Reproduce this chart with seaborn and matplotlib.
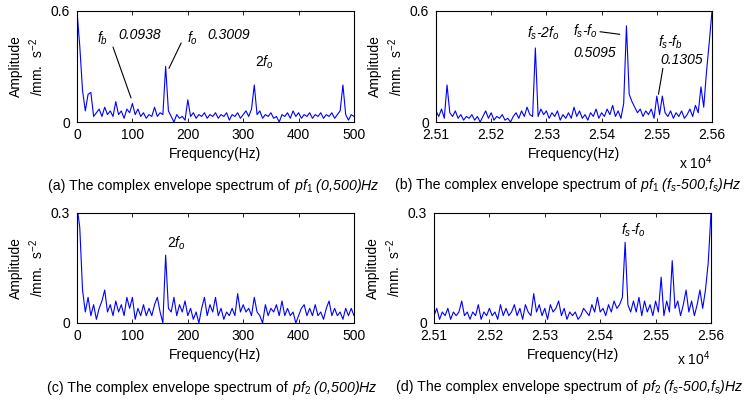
import numpy as np
import pandas as pd
import matplotlib
matplotlib.use("Agg")
import matplotlib.pyplot as plt
import seaborn as sns
from matplotlib.ticker import FuncFormatter

# ---------------- data ----------------
freq_low = list(range(0, 505, 5))                 # Hz, panels (a),(c)
freq_high = list(range(25100, 25605, 5))          # Hz, panels (b),(d)

amp_a = [0.60, 0.41, 0.17, 0.06, 0.15, 0.16, 0.03, 0.05, 0.07, 0.03,
         0.08, 0.04, 0.06, 0.03, 0.11, 0.04, 0.06, 0.02, 0.07, 0.05,
         0.10, 0.04, 0.07, 0.03, 0.05, 0.02, 0.04, 0.03, 0.08, 0.03,
         0.05, 0.04, 0.30, 0.06, 0.03, 0.00, 0.04, 0.02, 0.03, 0.01,
         0.12, 0.03, 0.05, 0.02, 0.04, 0.03, 0.05, 0.02, 0.04, 0.03,
         0.05, 0.02, 0.04, 0.03, 0.05, 0.01, 0.04, 0.03, 0.05, 0.02,
         0.04, 0.06, 0.03, 0.07, 0.20, 0.04, 0.06, 0.02, 0.04, 0.03,
         0.05, 0.02, 0.03, 0.00, 0.04, 0.03, 0.05, 0.02, 0.06, 0.03,
         0.05, 0.02, 0.04, 0.03, 0.05, 0.02, 0.04, 0.03, 0.05, 0.02,
         0.04, 0.03, 0.05, 0.02, 0.04, 0.06, 0.20, 0.04, 0.01, 0.04,
         0.03]

amp_b = [0.06, 0.03, 0.07, 0.02, 0.20, 0.05, 0.03, 0.06, 0.02, 0.04,
         0.01, 0.03, 0.02, 0.04, 0.01, 0.03, 0.00, 0.03, 0.06, 0.02,
         0.05, 0.01, 0.03, 0.02, 0.04, 0.01, 0.02, 0.00, 0.03, 0.05,
         0.02, 0.06, 0.03, 0.08, 0.04, 0.03, 0.40, 0.03, 0.07, 0.04,
         0.06, 0.02, 0.05, 0.03, 0.06, 0.01, 0.04, 0.02, 0.05, 0.02,
         0.08, 0.03, 0.06, 0.02, 0.04, 0.01, 0.05, 0.03, 0.07, 0.02,
         0.05, 0.03, 0.07, 0.04, 0.09, 0.03, 0.06, 0.02, 0.10, 0.52,
         0.15, 0.11, 0.08, 0.05, 0.07, 0.03, 0.06, 0.04, 0.07, 0.02,
         0.14, 0.04, 0.14, 0.05, 0.03, 0.06, 0.02, 0.05, 0.03, 0.06,
         0.02, 0.04, 0.07, 0.03, 0.09, 0.05, 0.19, 0.08, 0.27, 0.43,
         0.60]

amp_c = [0.32, 0.26, 0.09, 0.03, 0.07, 0.02, 0.05, 0.01, 0.04, 0.06,
         0.09, 0.03, 0.05, 0.02, 0.06, 0.03, 0.05, 0.02, 0.07, 0.04,
         0.07, 0.01, 0.04, 0.02, 0.05, 0.02, 0.04, 0.02, 0.05, 0.07,
         0.03, 0.00, 0.185, 0.04, 0.03, 0.07, 0.02, 0.05, 0.03, 0.06,
         0.02, 0.04, 0.01, 0.03, 0.00, 0.04, 0.07, 0.02, 0.05, 0.03,
         0.07, 0.02, 0.04, 0.01, 0.03, 0.02, 0.04, 0.02, 0.08, 0.03,
         0.05, 0.03, 0.04, 0.02, 0.07, 0.03, 0.02, 0.00, 0.05, 0.02,
         0.04, 0.03, 0.05, 0.02, 0.06, 0.02, 0.04, 0.02, 0.03, 0.00,
         0.02, 0.04, 0.05, 0.02, 0.04, 0.02, 0.05, 0.02, 0.03, 0.01,
         0.04, 0.06, 0.02, 0.04, 0.02, 0.03, 0.01, 0.04, 0.02, 0.04,
         0.02]

amp_d = [0.02, 0.04, 0.01, 0.03, 0.02, 0.04, 0.01, 0.03, 0.02, 0.03,
         0.06, 0.02, 0.03, 0.01, 0.03, 0.02, 0.05, 0.01, 0.03, 0.02,
         0.04, 0.02, 0.03, 0.01, 0.05, 0.02, 0.04, 0.02, 0.03, 0.05,
         0.02, 0.04, 0.01, 0.05, 0.03, 0.02, 0.08, 0.03, 0.05, 0.02,
         0.04, 0.01, 0.05, 0.03, 0.04, 0.06, 0.02, 0.04, 0.01, 0.03,
         0.02, 0.03, 0.01, 0.02, 0.04, 0.03, 0.02, 0.05, 0.03, 0.07,
         0.03, 0.04, 0.02, 0.05, 0.03, 0.06, 0.04, 0.05, 0.07, 0.22,
         0.05, 0.03, 0.06, 0.03, 0.07, 0.02, 0.06, 0.03, 0.05, 0.02,
         0.06, 0.03, 0.125, 0.02, 0.06, 0.03, 0.17, 0.04, 0.06, 0.02,
         0.05, 0.09, 0.03, 0.06, 0.02, 0.05, 0.09, 0.04, 0.09, 0.165,
         0.30]

low_ticks = [0, 100, 200, 300, 400, 500]
high_ticks = [25100, 25200, 25300, 25400, 25500, 25600]

captions = [
    ("(a) The complex envelope spectrum of", r"$pf_1$ (0,500)Hz"),
    ("(b) The complex envelope spectrum of", r"$pf_1$ ($f_s$-500,$f_s$)Hz"),
    ("(c) The complex envelope spectrum of", r"$pf_2$ (0,500)Hz"),
    ("(d) The complex envelope spectrum of", r"$pf_2$ ($f_s$-500,$f_s$)Hz"),
]

# ---------------- style ----------------
sns.set_theme(style="ticks")
plt.rcParams["font.family"] = ["Liberation Sans", "DejaVu Sans"]
plt.rcParams["mathtext.fontset"] = "custom"
plt.rcParams["mathtext.rm"] = "Liberation Sans"
plt.rcParams["mathtext.it"] = "Liberation Sans:italic"
plt.rcParams["mathtext.bf"] = "Liberation Sans:bold"
plt.rcParams["axes.edgecolor"] = "black"
plt.rcParams["axes.linewidth"] = 0.8
plt.rcParams["text.color"] = "black"
plt.rcParams["axes.labelcolor"] = "black"
plt.rcParams["xtick.color"] = "black"
plt.rcParams["ytick.color"] = "black"

FS = 10
CAP_FS = 10.2
W, H = 749, 403
fig = plt.figure(figsize=(W / 100, H / 100), dpi=100)
fig.patch.set_facecolor("white")


def px_axes(l, t, r, b):
    return fig.add_axes([l / W, 1 - b / H, (r - l) / W, (b - t) / H])


ax_a = px_axes(77, 11, 354, 122)
ax_b = px_axes(436, 11, 712, 122)
ax_c = px_axes(77, 213, 354, 323)
ax_d = px_axes(434, 213, 711, 323)

panels = [
    (ax_a, freq_low, amp_a, 0.6, low_ticks, False),
    (ax_b, freq_high, amp_b, 0.6, high_ticks, True),
    (ax_c, freq_low, amp_c, 0.3, low_ticks, False),
    (ax_d, freq_high, amp_d, 0.3, high_ticks, True),
]

for ax, fx, amp, ymax, xt, scaled in panels:
    df = pd.DataFrame({"Frequency": fx, "Amplitude": amp})
    sns.lineplot(data=df, x="Frequency", y="Amplitude", ax=ax,
                 color="#0000FF", linewidth=0.8, estimator=None, sort=True)
    ax.set_xlim(fx[0], fx[-1])
    ax.set_ylim(0, ymax)
    ax.set_xticks(xt)
    ax.set_yticks([0, ymax])
    ax.yaxis.set_major_formatter(FuncFormatter(lambda v, p: "0" if v == 0 else f"{v:g}"))
    if scaled:
        ax.xaxis.set_major_formatter(FuncFormatter(lambda v, p: f"{v / 1e4:.2f}"))
    ax.tick_params(axis="both", direction="in", top=True, right=True, length=3,
                   width=0.6, labelsize=FS, colors="black")
    ax.tick_params(axis="x", pad=4.5)
    ax.tick_params(axis="y", pad=5)
    ax.set_xlabel("Frequency(Hz)", fontsize=FS, labelpad=3.5)
    ax.set_ylabel("Amplitude\n/mm.  s$^{-2}$", fontsize=FS, linespacing=1.25)
    ax.yaxis.set_label_coords(-0.113, 0.5)
    for s in ax.spines.values():
        s.set_visible(True)
        s.set_color("black")

txt = dict(fontsize=FS, style="italic", va="center", ha="left")
line = dict(arrowstyle="-", lw=0.8, color="black", shrinkA=0, shrinkB=0)

# panel (a)
ax_a.text(36, 0.455, r"$f_b$", **txt)
ax_a.text(74, 0.47, "0.0938", **txt)
ax_a.annotate("", xy=(97.5, 0.13), xytext=(65, 0.405), arrowprops=line)
ax_a.text(198, 0.455, r"$f_o$", **txt)
ax_a.text(235, 0.47, "0.3009", **txt)
ax_a.annotate("", xy=(166, 0.29), xytext=(188, 0.427), arrowprops=line)
ax_a.text(321, 0.32, r"$2f_o$", **txt)

# panel (b)
ax_b.text(25265, 0.48, r"$f_s$-2$f_o$", **txt)
ax_b.text(25348, 0.49, r"$f_s$-$f_o$", **txt)
ax_b.annotate("", xy=(25433, 0.474), xytext=(25397, 0.488), arrowprops=line)
ax_b.text(25348, 0.373, "0.5095", **txt)
ax_b.text(25503, 0.43, r"$f_s$-$f_b$", **txt)
ax_b.text(25506, 0.335, "0.1305", **txt)
ax_b.annotate("", xy=(25503, 0.15), xytext=(25511, 0.29), arrowprops=line)

# panel (c)
ax_c.text(163, 0.218, r"$2f_o$", **txt)

# panel (d)
ax_d.text(25437, 0.253, r"$f_s$-$f_o$", **txt)

# x 10^4 multipliers
fig.text(696 / W, 1 - 163 / H, r"x 10$^4$", fontsize=FS, ha="center", va="center")
fig.text(694 / W, 1 - 359 / H, r"x 10$^4$", fontsize=FS, ha="center", va="center")

# captions: plain part followed by italic part on the same baseline
cap_pos = [(48, 190), (395, 189), (47, 392), (396, 391)]
fig.canvas.draw()
renderer = fig.canvas.get_renderer()
for (plain, ital), (cx, cy) in zip(captions, cap_pos):
    t1 = fig.text(cx / W, 1 - cy / H, plain, fontsize=CAP_FS, ha="left", va="baseline")
    bb = t1.get_window_extent(renderer=renderer)
    fig.text((bb.x1 + 4) / W, 1 - cy / H, ital, fontsize=CAP_FS, style="italic",
             ha="left", va="baseline")

fig.savefig("out.png", dpi=100, facecolor="white")
